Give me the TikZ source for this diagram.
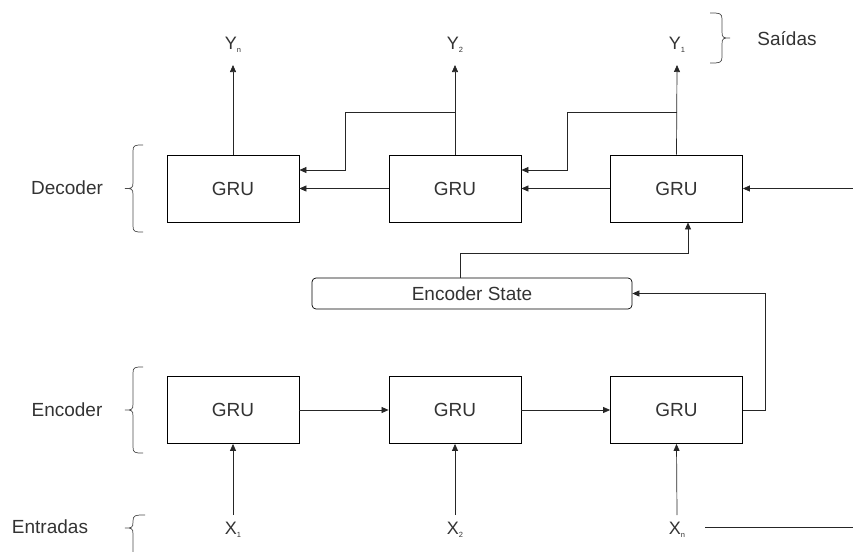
\documentclass[tikz,border=0pt]{standalone}
\usepackage{fontspec}
\setmainfont{Liberation Sans}
\usetikzlibrary{arrows.meta}
\newcommand{\subtiny}[1]{\raisebox{-2.5pt}{\fontsize{7.5}{7.5}\selectfont #1}}
% #1 end x, #2 spine x, #3 tip x, #4 top y, #5 tip y, #6 bottom y
\newcommand{\mybrace}[6]{%
  \draw[brc] (#1,#4) .. controls ($(#2,#4)!0.2!(#1,#4)$) and (#2,#4) .. ($(#2,#4)+(0,6)$)
    -- ($(#2,#5)-(0,6)$) .. controls (#2,#5) and ($(#2,#5)!0.2!(#3,#5)$) .. (#3,#5)
    .. controls ($(#2,#5)!0.2!(#3,#5)$) and (#2,#5) .. ($(#2,#5)+(0,6)$)
    -- ($(#2,#6)-(0,6)$) .. controls (#2,#6) and ($(#2,#6)!0.2!(#1,#6)$) .. (#1,#6);}
\usetikzlibrary{calc}
\begin{document}
\begin{tikzpicture}[x=1pt,y=-1pt,
  gru/.style={draw=black,line width=0.8pt,minimum width=132pt,minimum height=67pt,inner sep=0pt,font=\fontsize{19}{22}\selectfont,text=black!80},
  lbl/.style={font=\fontsize{19}{22}\selectfont,text=black!80,inner sep=1pt},
  var/.style={font=\fontsize{18}{20}\selectfont,text=black!80,inner sep=1pt},
  conn/.style={line width=0.7pt,draw=black!85},
  arr/.style={conn,-{Triangle[length=7pt,width=6pt]}},
  brc/.style={draw=black!70,line width=0.7pt}]
\useasboundingbox (0,0) rectangle (853,551);
% decoder
\node[gru] (d1) at (233,188.5) {GRU};
\node[gru] (d2) at (455,188.5) {GRU};
\node[gru] (d3) at (676.5,188.5) {GRU};
% encoder
\node[gru] (e1) at (233,410) {GRU};
\node[gru] (e2) at (455,410) {GRU};
\node[gru] (e3) at (676.5,410) {GRU};
% state
\node[draw=black,line width=0.7pt,rounded corners=4pt,minimum width=320pt,minimum height=31pt,inner sep=0pt,font=\fontsize{19}{22}\selectfont,text=black!80] (st) at (472,293.5) {Encoder State};
% outputs
\node[var] (yn) at (233,45) {Y\subtiny{n}};
\node[var] (y2) at (455,45) {Y\subtiny{2}};
\node[var] (y1) at (677,45) {Y\subtiny{1}};
% inputs
\node[var] (x1) at (233,530) {X\subtiny{1}};
\node[var] (x2) at (455,530) {X\subtiny{2}};
\node[var] (xn) at (677,530) {X\subtiny{n}};
% labels
\node[lbl] (dec) at (67,188) {Decoder};
\node[lbl] (enc) at (67,410) {Encoder};
\node[lbl] (ent) at (50,527) {Entradas};
\node[lbl] (sai) at (787,39) {Saídas};
% braces
\mybrace{143}{133}{125}{145}{188.5}{232}
\mybrace{143}{133}{125}{367}{410}{453}
\mybrace{145}{133}{125}{515}{528}{571}
\mybrace{710}{722}{730}{13}{38}{63}
% coordinates
\coordinate (c2) at (345,112);
\coordinate (c3) at (567,112);
\coordinate (rin) at (853,188.5);
\coordinate (xend) at (853,527);
% decoder up arrows
\draw[arr] (d1.north) -- (233,65);
\draw[arr] (d2.north) -- (455,65);
\draw[arr] (d3.north) -- (677,65);
% feedback
\draw[arr] (455,112) -- (c2) -- (345,170) -- (d1.east |- 0,170);
\draw[arr] (677,112) -- (c3) -- (567,170) -- (d2.east |- 0,170);
\draw[arr] (d2.west) -- (d1.east);
\draw[arr] (d3.west) -- (d2.east);
\draw[arr] (rin) -- (d3.east);
% state to decoder
\draw[arr] (st.north -| 460,0) -- (460,253) -- (688,253) -- (d3.south -| 688,0);
% encoder chain
\draw[arr] (e1.east) -- (e2.west);
\draw[arr] (e2.east) -- (e3.west);
\draw[arr] (e3.east) -- (765,410) -- (765,293.5) -- (st.east);
% inputs
\draw[arr] (233,515) -- (e1.south);
\draw[arr] (455,515) -- (e2.south);
\draw[arr] (677,515) -- (e3.south);
\draw[conn] (705,527) -- (xend);
\end{tikzpicture}
\end{document}
